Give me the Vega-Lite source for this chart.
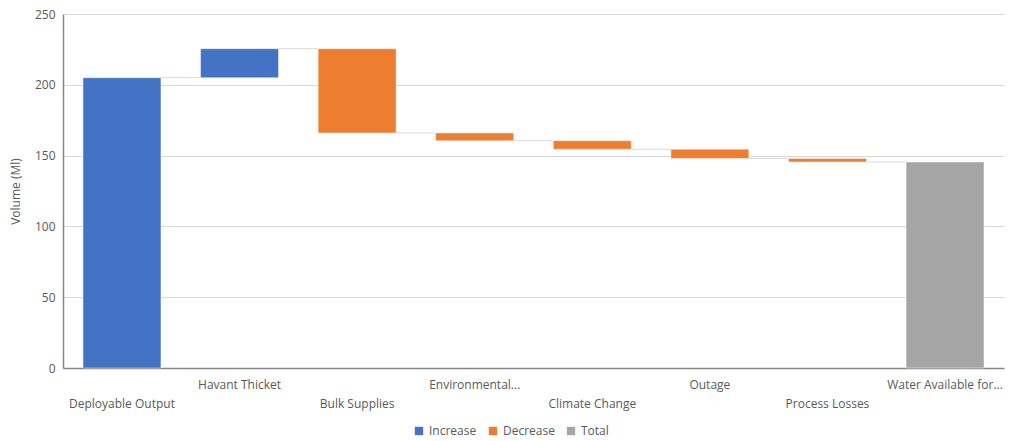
{
  "$schema": "https://vega.github.io/schema/vega-lite/v6.json",
  "autosize": {"type": "none"},
  "width": 941,
  "height": 354,
  "padding": {"left": 63, "top": 14, "right": 11, "bottom": 73},
  "background": "white",
  "config": {
    "view": {"stroke": null},
    "font": "Open Sans",
    "axis": {"labelFontSize": 12, "labelColor": "#595959", "titleColor": "#595959", "titleFontSize": 12, "labelFont": "Open Sans", "titleFont": "Open Sans"},
    "legend": {"labelFont": "Open Sans", "labelFontSize": 12, "labelColor": "#595959"}
  },
  "data": {
    "values": [
      {"cat": "Deployable Output", "start": 0, "end": 205, "type": "Increase", "next": "Havant Thicket"},
      {"cat": "Havant Thicket", "start": 205, "end": 225.5, "type": "Increase", "next": "Bulk Supplies"},
      {"cat": "Bulk Supplies", "start": 225.5, "end": 166, "type": "Decrease", "next": "Environmental..."},
      {"cat": "Environmental...", "start": 166, "end": 160.5, "type": "Decrease", "next": "Climate Change"},
      {"cat": "Climate Change", "start": 160.5, "end": 154.5, "type": "Decrease", "next": "Outage"},
      {"cat": "Outage", "start": 154.5, "end": 148, "type": "Decrease", "next": "Process Losses"},
      {"cat": "Process Losses", "start": 148, "end": 145.5, "type": "Decrease", "next": "Water Available for..."},
      {"cat": "Water Available for...", "start": 0, "end": 145.5, "type": "Total", "next": null}
    ]
  },
  "layer": [
    {
      "transform": [{"filter": "datum.next != null"}],
      "mark": {"type": "rule", "color": "#d9d9d9", "strokeWidth": 1},
      "encoding": {
        "x": {"field": "cat", "type": "nominal", "bandPosition": 1, "sort": ["Deployable Output", "Havant Thicket", "Bulk Supplies", "Environmental...", "Climate Change", "Outage", "Process Losses", "Water Available for..."]},
        "x2": {"field": "next", "bandPosition": 0},
        "y": {"field": "end", "type": "quantitative"}
      }
    },
    {
      "mark": {"type": "bar", "stroke": "white", "strokeOpacity": 0.6, "strokeWidth": 0.75},
      "encoding": {
        "x": {
          "field": "cat", "type": "nominal",
          "sort": ["Deployable Output", "Havant Thicket", "Bulk Supplies", "Environmental...", "Climate Change", "Outage", "Process Losses", "Water Available for..."],
          "scale": {"paddingInner": 0.337, "paddingOuter": 0.17},
          "axis": {
            "title": null, "labelAngle": 0, "ticks": false, "domainColor": "#868686", "domainWidth": 1.5,
            "bandPosition": 0.5, "labelAlign": "center",
            "labelBaseline": "top",
            "labelPadding": {"expr": "round(datum.index * 7) % 2 == 1 ? 11 : 30"},
            "labelLimit": 200
          }
        },
        "y": {
          "field": "start", "type": "quantitative",
          "scale": {"domain": [0, 250], "nice": false},
          "axis": {
            "title": "Volume (Ml)", "values": [0, 50, 100, 150, 200, 250], "ticks": false,
            "domainColor": "#868686", "domainWidth": 1.5, "gridColor": "#d9d9d9", "labelPadding": 8,
            "titlePadding": 12, "titleFontWeight": "normal"
          }
        },
        "y2": {"field": "end"},
        "color": {
          "field": "type", "type": "nominal",
          "scale": {"domain": ["Increase", "Decrease", "Total"], "range": ["#4472C4", "#ED7D31", "#A5A5A5"]},
          "legend": {
            "title": null, "orient": "none", "direction": "horizontal", "legendX": 350, "legendY": 411,
            "symbolType": "square", "symbolSize": 70, "symbolStrokeWidth": 0, "columnPadding": 10, "labelOffset": 4
          }
        }
      }
    }
  ]
}
